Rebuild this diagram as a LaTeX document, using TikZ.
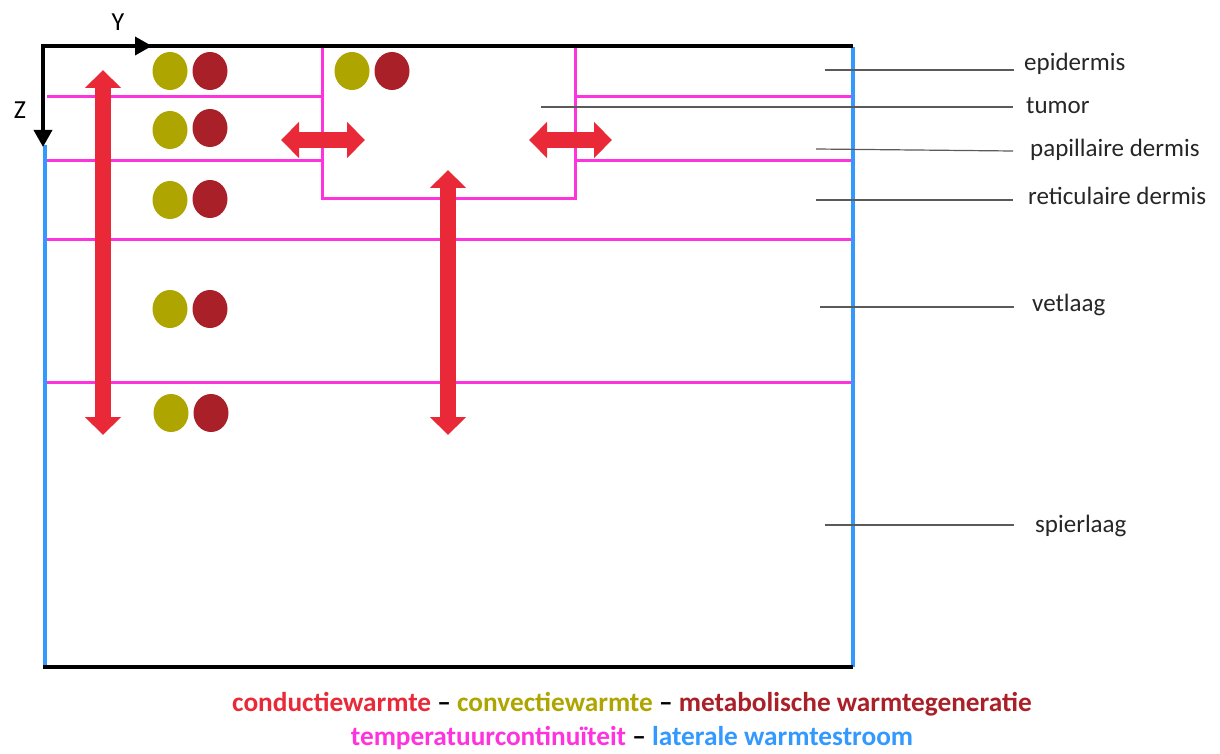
\documentclass[tikz,border=0pt]{standalone}
\usepackage{fontspec}
\setmainfont{Carlito}
\usetikzlibrary{arrows.meta,shapes.geometric}
\definecolor{cmag}{RGB}{255,51,221}
\definecolor{cblue}{RGB}{51,153,255}
\definecolor{cred}{RGB}{233,41,56}
\definecolor{colive}{RGB}{175,165,0}
\definecolor{cdred}{RGB}{170,32,40}
\definecolor{cgray}{RGB}{90,90,90}
\definecolor{ctext}{RGB}{38,38,38}
\begin{document}
\begin{tikzpicture}[x=1pt,y=-1pt,
  mag/.style={draw=cmag,line width=3pt},
  lat/.style={draw=cblue,line width=3.5pt},
  axisline/.style={draw=black,line width=3.5pt},
  axisarrow/.style={draw=black,line width=3.5pt,-{Triangle[length=17pt,width=18pt]}},
  heat/.style={draw=cred,line width=16pt,{Triangle[length=18pt,width=35pt]}-{Triangle[length=18pt,width=35pt]}},
  conv/.style={ellipse,fill=colive,minimum width=35pt,minimum height=38pt,inner sep=0pt},
  meta/.style={ellipse,fill=cdred,minimum width=35pt,minimum height=38pt,inner sep=0pt},
  lead/.style={draw=cgray,line width=1.2pt},
  lbl/.style={anchor=west,text=ctext,font=\fontsize{25}{30}\selectfont,inner sep=0pt},
  axlbl/.style={text=black,font=\fontsize{26}{30}\selectfont,inner sep=0pt},
  legend/.style={font=\bfseries\fontsize{27.3}{32}\selectfont,inner sep=0pt}
]
\useasboundingbox (0,0) rectangle (1220,754);
\fill[white] (0,0) rectangle (1220,754);

% corners
\coordinate (O) at (43,46);
\coordinate (TR) at (853,46);
\coordinate (BL) at (43,667);
\coordinate (BR) at (853,667);
\coordinate (Yend) at (152,46);
\coordinate (Zend) at (43,147);
\coordinate (Lb) at (45,667);
\coordinate (Lt) at (45,145);

% magenta layer boundaries
\draw[mag] (47,97) -- (322,97);
\draw[mag] (574,97) -- (851,97);
\draw[mag] (47,161) -- (322,161);
\draw[mag] (574,161) -- (851,161);
\draw[mag] (322,47) -- (322,199) -- (575,199) -- (575,47);
\draw[mag] (47,239) -- (851,239);
\draw[mag] (47,382) -- (851,382);

% lateral boundaries
\draw[lat] (Lt) -- (Lb);
\draw[lat] (853,47) -- (853,667);

% axes and outline
\draw[axisline] (O) -- (TR);
\draw[axisline,line width=4pt] (BL) -- (BR);
\draw[axisarrow] ([xshift=-1.75pt]O) -- (Yend);
\draw[axisarrow] ([yshift=-1.75pt]O) -- (Zend);
\node[axlbl] (Y) at (118,22) {Y};
\node[axlbl] (Z) at (20,110) {Z};

% leader lines
\coordinate (e1) at (825,70);  \coordinate (e2) at (1014,70);
\coordinate (t1) at (541,107); \coordinate (t2) at (1013,107);
\coordinate (p1) at (816,149); \coordinate (p2) at (1013,151);
\coordinate (r1) at (816,200); \coordinate (r2) at (1013,200);
\coordinate (v1) at (820,307); \coordinate (v2) at (1014,307);
\coordinate (s1) at (825,525); \coordinate (s2) at (1014,525);
\draw[lead] (e1) -- (e2);
\draw[lead] (t1) -- (t2);
\draw[lead] (p1) -- (p2);
\draw[lead] (r1) -- (r2);
\draw[lead] (v1) -- (v2);
\draw[lead] (s1) -- (s2);

\node[lbl] (epi) at (1024,64) {epidermis};
\node[lbl] (tum) at (1026,106) {tumor};
\node[lbl] (pap) at (1030,150) {papillaire dermis};
\node[lbl] (ret) at (1028,196) {reticulaire dermis};
\node[lbl] (vet) at (1032,305) {vetlaag};
\node[lbl] (spi) at (1035,526) {spierlaag};

% conduction arrows
\coordinate (a1t) at (103,70);  \coordinate (a1b) at (103,435);
\coordinate (a2t) at (448,170); \coordinate (a2b) at (448,435);
\coordinate (h1l) at (281,140); \coordinate (h1r) at (365,140);
\coordinate (h2l) at (529,140); \coordinate (h2r) at (612,140);
\draw[heat] (a1t) -- (a1b);
\draw[heat] (a2t) -- (a2b);
\draw[heat] (h1l) -- (h1r);
\draw[heat] (h2l) -- (h2r);

% convection / metabolism markers
\node[conv] (c1) at (170,71) {};  \node[meta] (m1) at (210,71) {};
\node[conv] (c2) at (170,130) {}; \node[meta] (m2) at (210,128) {};
\node[conv] (c3) at (170,200) {}; \node[meta] (m3) at (210,199) {};
\node[conv] (c4) at (170,309) {}; \node[meta] (m4) at (210,309) {};
\node[conv] (c5) at (171,413) {}; \node[meta] (m5) at (211,413) {};
\node[conv] (c6) at (352,71) {};  \node[meta] (m6) at (392,71) {};

% legend
\node[legend] (leg1) at (632,704) {\textcolor{cred}{conductiewarmte} \textcolor{black}{–} \textcolor{colive}{convectiewarmte} \textcolor{black}{–} \textcolor{cdred}{metabolische warmtegeneratie}};
\node[legend] (leg2) at (632,738) {\textcolor{cmag}{temperatuurcontinuïteit} \textcolor{black}{–} \textcolor{cblue}{laterale warmtestroom}};
\end{tikzpicture}
\end{document}
